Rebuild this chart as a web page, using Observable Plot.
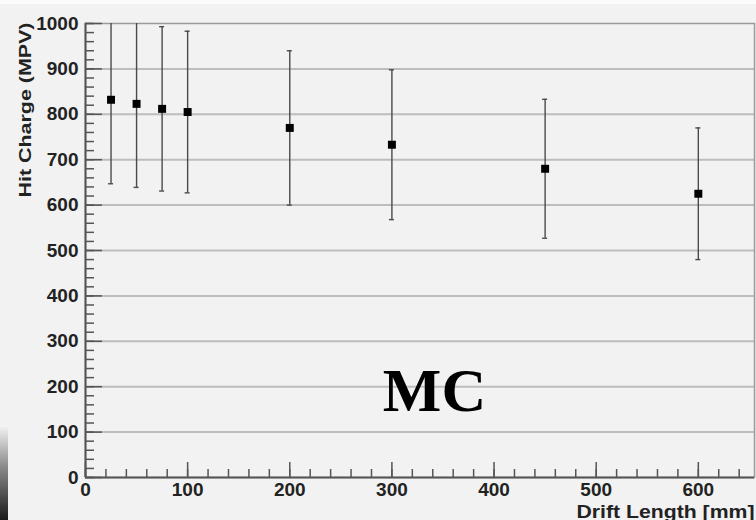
<!DOCTYPE html>
<html>
<head>
<meta charset="utf-8">
<script src="https://cdn.jsdelivr.net/npm/d3@7"></script>
<script src="https://cdn.jsdelivr.net/npm/@observablehq/plot@0.6"></script>
<style>
  html, body { margin: 0; padding: 0; background: #f2f2f2; }
  #wrap { position: relative; width: 756px; height: 520px; overflow: hidden; }
  #topband { position: absolute; left: 0; top: 0; width: 756px; height: 4px; background: #fbfbfb; }
  #strip { position: absolute; left: 0; top: 425px; width: 8px; height: 95px;
           background: linear-gradient(#f5f5f5, #888 45%, #1a1a1a); }
  svg { font-family: "Liberation Sans", Arial, sans-serif; background: transparent; }
</style>
</head>
<body>
<div id="wrap"><div id="topband"></div><div id="strip"></div></div>
<script>
// Data
const driftLength = [25, 50, 75, 100, 200, 300, 450, 600];          // mm
const hitChargeMPV = [832, 823, 812, 805, 770, 733, 680, 625];
const hitChargeErr = [185, 184, 181, 178, 170, 165, 153, 145];
const yMajorTicks = [0, 100, 200, 300, 400, 500, 600, 700, 800, 900, 1000];
const yGridTicks = [100, 200, 300, 400, 500, 600, 700, 800, 900];
const yMinorTicks = d3.range(0, 1001, 20);
const xMajorTicks = [0, 100, 200, 300, 400, 500, 600];
const xMinorTicks = d3.range(0, 656, 20);
const xLabel = "Drift Length [mm]";
const yLabel = "Hit Charge (MPV)";
const annotation = ["MC"];

const data = driftLength.map((x, i) => ({x, v: hitChargeMPV[i], e: hitChargeErr[i]}));

const axisColor = "#555";
const fmt = d => String(d);
const chart = Plot.plot({
  width: 756,
  height: 520,
  marginTop: 23,
  marginRight: 2,
  marginBottom: 43,
  marginLeft: 85,
  x: {domain: [0, 655]},
  y: {domain: [0, 1000]},
  style: {background: "transparent"},
  marks: [
    Plot.gridY(yGridTicks, {stroke: "#bdbdbd", strokeOpacity: 1, strokeWidth: 2}),
    Plot.frame({stroke: "#9a9a9a", strokeWidth: 1.5}),
    // minor ticks (inward)
    Plot.axisY(yMinorTicks, {tickSize: -9, tickFormat: () => "", label: null, stroke: axisColor, strokeWidth: 1.5}),
    Plot.axisX(xMinorTicks, {tickSize: -8, tickFormat: () => "", label: null, stroke: axisColor, strokeWidth: 1.5}),
    // major ticks (inward)
    Plot.axisY(yMajorTicks, {tickSize: -17, tickFormat: () => "", label: null, stroke: axisColor, strokeWidth: 1.5}),
    Plot.axisX(xMajorTicks, {tickSize: -15, tickFormat: () => "", label: null, stroke: axisColor, strokeWidth: 1.5}),
    // tick labels
    Plot.axisY(yMajorTicks, {tickSize: 0, tickPadding: 7, tickFormat: fmt, label: null, fontSize: 19, fontWeight: "bold", fill: "#222"}),
    Plot.axisX(xMajorTicks, {tickSize: 0, tickPadding: 5, tickFormat: fmt, label: null, fontSize: 19, fontWeight: "bold", fill: "#222"}),
    // axis lines
    Plot.ruleX([0], {stroke: axisColor, strokeWidth: 2}),
    Plot.ruleY([0], {stroke: axisColor, strokeWidth: 2}),
    // error bars
    Plot.ruleX(data, {x: "x", y1: d => d.v - d.e, y2: d => d.v + d.e, stroke: "#4a4a4a", strokeWidth: 1.4, clip: true}),
    Plot.ruleY(data, {y: d => d.v - d.e, x1: "x", x2: "x", insetLeft: -2.5, insetRight: -2.5, stroke: "#4a4a4a", strokeWidth: 1.4, clip: true}),
    Plot.ruleY(data, {y: d => d.v + d.e, x1: "x", x2: "x", insetLeft: -2.5, insetRight: -2.5, stroke: "#4a4a4a", strokeWidth: 1.4, clip: true}),
    // markers
    Plot.dot(data, {x: "x", y: "v", symbol: "square", r: 4.5, fill: "#000", stroke: null}),
    // annotation
    Plot.text(annotation, {frameAnchor: "bottom-left", dx: 349, dy: -67, text: d => d, textAnchor: "middle", lineAnchor: "bottom",
      fontSize: 62, fontFamily: "Liberation Serif, Times New Roman, serif", fontWeight: "bold", fill: "#000"}),
    // axis titles
    Plot.text([yLabel], {frameAnchor: "top-left", dx: -60, dy: -1, rotate: -90, text: d => d, textAnchor: "end", lineAnchor: "middle",
      fontSize: 16, fontWeight: "bold", fill: "#222", className: "ylab"}),
    Plot.text([xLabel], {frameAnchor: "bottom-right", dx: 0, dy: 40, text: d => d, textAnchor: "end", lineAnchor: "bottom",
      fontSize: 18, fontWeight: "bold", fill: "#222", className: "xlab"})
  ]
});

d3.select(chart).selectAll(".ylab text").attr("textLength", 175).attr("lengthAdjust", "spacingAndGlyphs");
d3.select(chart).selectAll(".xlab text").attr("textLength", 178).attr("lengthAdjust", "spacingAndGlyphs");
chart.style.position = "absolute";
chart.style.left = "0px";
chart.style.top = "0px";
document.getElementById("wrap").appendChild(chart);
</script>
</body>
</html>
